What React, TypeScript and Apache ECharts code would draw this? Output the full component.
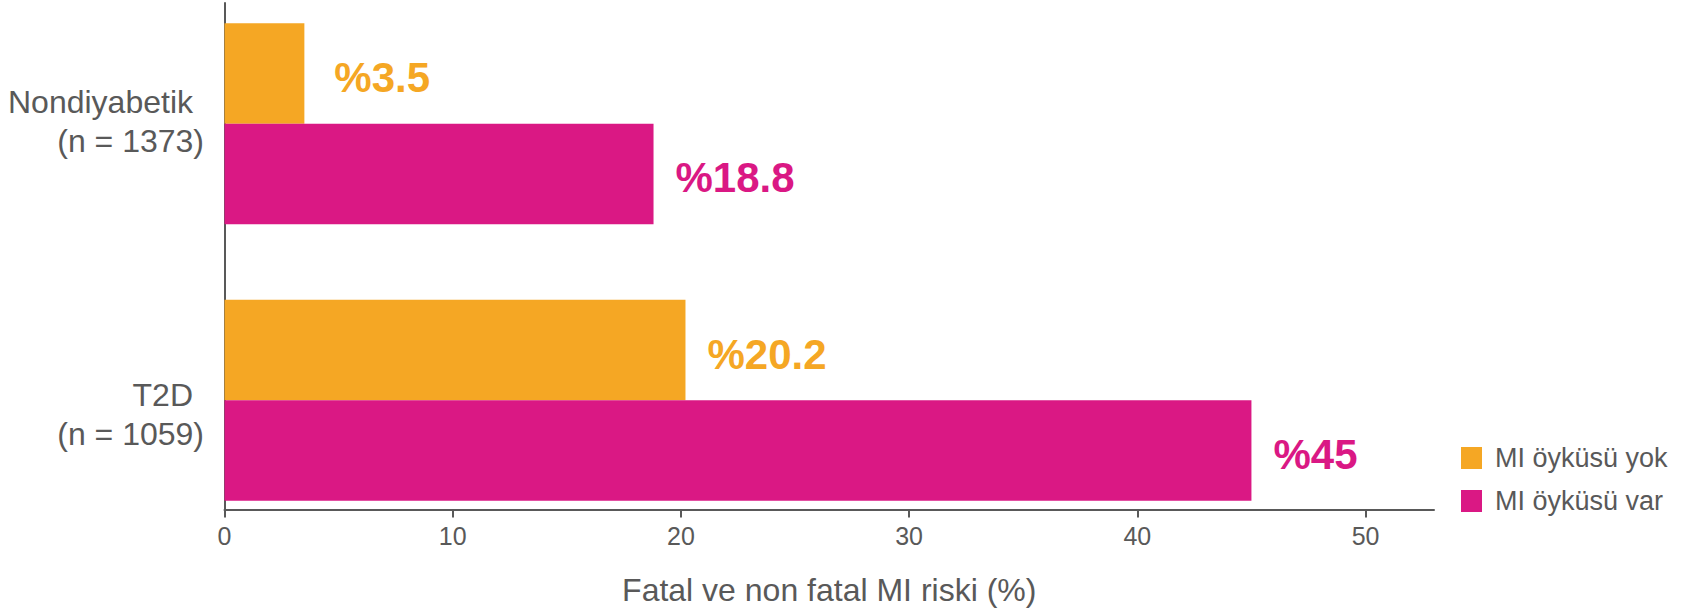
import React, { useEffect, useRef } from "react";
import * as echarts from "echarts";

// Groups on the vertical axis, top to bottom
const categories = ["Nondiyabetik", "T2D"];
const sampleSizes = ["(n = 1373)", "(n = 1059)"];

// Fatal and non-fatal MI risk (%)
const seriesNames = ["MI öyküsü yok", "MI öyküsü var"];
const noPriorMI = [3.5, 20.2];
const priorMI = [18.8, 45];

// Horizontal axis
const xTicks = [0, 10, 20, 30, 40, 50];
const xMax = 53;
const xAxisTitle = "Fatal ve non fatal MI riski (%)";

const ORANGE = "#F5A724";
const PINK = "#DA1884";
const GREY = "#595959";
const FONT = "'Liberation Sans', Arial, Helvetica, sans-serif";

// Vertical nudges for the two group labels (padding top/right/bottom/left)
const groupLabelPadding = [
  [0, 0, 4, 0],
  [28, 0, 0, 0],
];
// Gap between each bar end and its value label, per group
const noPriorLabelGap = [30, 22];
const priorLabelGap = [22, 22];

export default function App() {
  const ref = useRef<HTMLDivElement>(null);

  useEffect(() => {
    if (!ref.current) return;
    const chart = echarts.init(ref.current, undefined, { renderer: "svg" });

    const gridLeft = 224.5;
    const gridRight = 253;

    const barLabel = (color: string) => ({
      show: true,
      position: "right" as const,
      distance: 22,
      offset: [0, 4],
      formatter: (p: any) => `%${p.value}`,
      color,
      fontFamily: FONT,
      fontSize: 42,
      fontWeight: "bold" as const,
    });

    const withGaps = (values: number[], gaps: number[]) =>
      values.map((v, i) => ({ value: v, label: { distance: gaps[i] } }));

    chart.setOption({
      animation: false,
      backgroundColor: "#ffffff",
      textStyle: { fontFamily: FONT },
      grid: [
        // bars
        {
          left: gridLeft,
          right: gridRight,
          top: -14.6,
          bottom: 70.4,
          outerBoundsMode: "none",
          containLabel: false,
        },
        // axis frame
        {
          left: gridLeft,
          right: gridRight,
          top: 3,
          bottom: 99.5,
          outerBoundsMode: "none",
          containLabel: false,
        },
      ],
      legend: {
        data: seriesNames,
        orient: "vertical",
        left: 1461,
        top: 444.5,
        padding: 0,
        icon: "rect",
        itemWidth: 21,
        itemHeight: 22,
        itemGap: 16,
        textStyle: {
          fontFamily: FONT,
          fontSize: 27,
          color: GREY,
          padding: [0, 0, 0, 8],
        },
      },
      xAxis: [
        {
          gridIndex: 0,
          type: "value",
          min: 0,
          max: xMax,
          show: false,
        },
        {
          gridIndex: 1,
          type: "value",
          min: 0,
          max: xMax,
          name: xAxisTitle,
          nameLocation: "middle",
          nameGap: 64,
          nameTextStyle: { fontFamily: FONT, fontSize: 32, color: GREY },
          axisLine: { show: true, lineStyle: { color: GREY, width: 2 } },
          axisTick: {
            show: true,
            customValues: xTicks,
            length: 8,
            lineStyle: { color: GREY, width: 2 },
          },
          axisLabel: {
            customValues: xTicks,
            fontFamily: FONT,
            fontSize: 25,
            color: GREY,
            margin: 14,
          },
          splitLine: { show: false },
        },
      ],
      yAxis: [
        {
          gridIndex: 0,
          type: "category",
          inverse: true,
          data: categories.map((c, i) => ({
            value: c,
            textStyle: { padding: groupLabelPadding[i] },
          })),
          axisLine: { show: false },
          axisTick: { show: false },
          axisLabel: {
            margin: 20.5,
            formatter: (value: string, index: number) =>
              `{t|${value}}\n{n|${sampleSizes[index]}}`,
            rich: {
              t: {
                fontFamily: FONT,
                fontSize: 32,
                lineHeight: 39,
                color: GREY,
                padding: [0, 11, 0, 0],
              },
              n: {
                fontFamily: FONT,
                fontSize: 32,
                lineHeight: 39,
                color: GREY,
              },
            },
          },
        },
        {
          gridIndex: 1,
          type: "value",
          min: 0,
          max: 1,
          axisLine: { show: true, lineStyle: { color: GREY, width: 2 } },
          axisTick: { show: false },
          axisLabel: { show: false },
          splitLine: { show: false },
        },
      ],
      series: [
        {
          name: seriesNames[0],
          type: "bar",
          xAxisIndex: 0,
          yAxisIndex: 0,
          data: withGaps(noPriorMI, noPriorLabelGap),
          barWidth: 100.5,
          barGap: "0%",
          itemStyle: { color: ORANGE },
          label: barLabel(ORANGE),
        },
        {
          name: seriesNames[1],
          type: "bar",
          xAxisIndex: 0,
          yAxisIndex: 0,
          data: withGaps(priorMI, priorLabelGap),
          barWidth: 100.5,
          barGap: "0%",
          itemStyle: { color: PINK },
          label: barLabel(PINK),
        },
      ],
    });

    return () => chart.dispose();
  }, []);

  return (
    <div
      ref={ref}
      style={{ position: "fixed", left: 0, top: 0, width: 1687, height: 609 }}
    />
  );
}
